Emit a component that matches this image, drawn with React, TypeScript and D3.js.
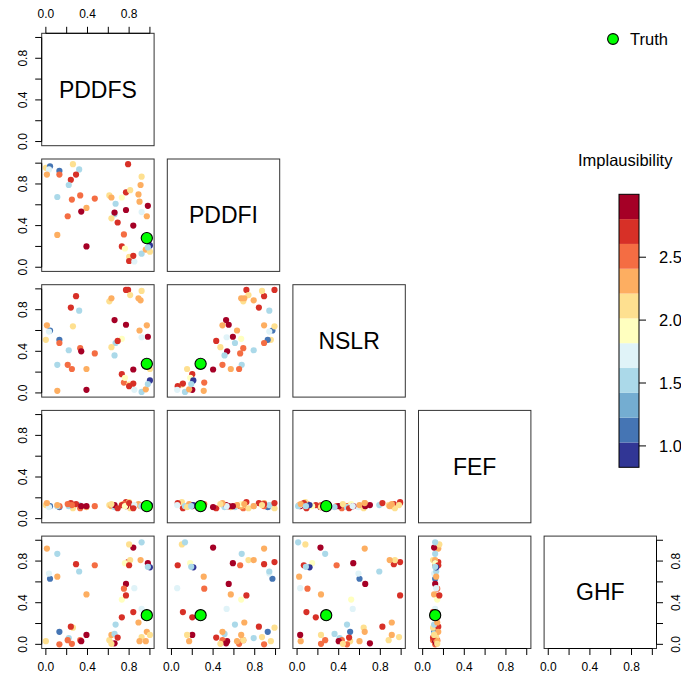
import React from 'react';
import * as d3 from 'd3';

const varNames = ['PDDFS', 'PDDFI', 'NSLR', 'FEF', 'GHF'];

const pddfs = [0.00,0.04,0.03,0.01,0.13,0.13,0.26,0.32,0.29,0.24,0.22,0.11,0.25,0.33,0.47,0.39,0.34,0.21,0.11,0.39,0.79,0.61,0.63,0.73,0.67,0.77,0.81,0.92,0.91,0.89,0.90,0.98,0.66,0.66,0.77,0.69,0.92,0.97,0.84,0.75,0.73,0.76,0.80,0.80,0.85,0.84,0.92,0.96,1.00,1.00,0.98,0.63];
const pddfi = [0.955,0.97,0.94,0.89,0.925,0.89,0.99,0.94,0.89,0.84,0.79,0.675,0.65,0.69,0.66,0.57,0.535,0.49,0.31,0.20,0.99,0.69,0.67,0.67,0.61,0.72,0.74,0.87,0.79,0.70,0.63,0.59,0.51,0.525,0.55,0.43,0.53,0.49,0.40,0.315,0.20,0.18,0.10,0.06,0.055,0.11,0.13,0.17,0.15,0.21,0.19,0.47];
const nslr = [0.51,0.60,0.59,0.65,0.51,0.48,0.64,0.79,0.93,0.82,0.41,0.27,0.23,0.43,0.38,0.23,0.40,0.27,0.02,0.03,0.99,0.88,0.91,0.52,0.48,0.99,0.94,0.98,0.89,0.91,0.60,0.54,0.36,0.70,0.655,0.50,0.535,0.65,0.225,0.10,0.18,0.145,0.08,0.065,0.03,0.09,0.01,0.035,0.23,0.12,0.085,0.44];
const fef = [0.13,0.12,0.11,0.15,0.11,0.12,0.10,0.13,0.14,0.15,0.12,0.12,0.13,0.10,0.12,0.11,0.12,0.14,0.13,0.12,0.15,0.13,0.12,0.14,0.11,0.16,0.10,0.13,0.12,0.14,0.13,0.12,0.11,0.13,0.12,0.10,0.12,0.15,0.11,0.14,0.13,0.12,0.16,0.15,0.13,0.10,0.12,0.14,0.11,0.13,0.12,0.14];
const ghf = [0.03,0.63,0.68,0.92,0.12,0.00,0.16,0.70,0.77,0.17,0.06,0.87,0.005,0.04,0.76,0.48,0.03,0.04,0.65,0.09,0.79,0.04,0.09,0.43,0.19,0.47,0.81,0.07,0.81,0.21,0.03,0.78,0.10,0.01,0.58,0.065,0.34,0.12,0.93,0.535,0.26,0.78,0.96,0.76,0.54,0.31,0.98,0.03,0.09,0.74,0.745,0.005];
const implausibility = [2.10,1.12,1.70,2.30,1.15,2.50,2.12,1.50,2.72,2.70,1.52,1.55,2.48,2.52,2.50,2.30,2.90,2.50,2.32,2.88,2.70,2.10,2.30,1.92,1.52,2.68,2.12,2.08,2.28,2.33,2.31,2.92,1.50,2.86,2.90,2.70,1.72,2.30,2.94,2.50,2.72,1.90,2.10,2.70,1.74,2.69,1.52,2.30,2.10,0.92,1.50,2.11];

const truth = [0.97, 0.28, 0.28, 0.12, 0.28];

const axisTicks = [0, 0.2, 0.4, 0.6, 0.8, 1.0];
const axisLabels = [0, 0.4, 0.8];
const impTicks = [1.0, 1.5, 2.0, 2.5];
const impRange: [number, number] = [0.83, 3.0];

const FONT = '"Liberation Sans", Arial, Helvetica, sans-serif';

export default function App() {
  const W = 681, H = 677;
  const L0 = 41.7, T0 = 33.3, HSTEP = 125.6, VSTEP = 125.7, SIZE = 112.4;
  const TICK = 6.5;
  const vars = [pddfs, pddfi, nslr, fef, ghf];
  const palette = d3.schemeRdYlBu[11].slice().reverse();
  const color = d3.scaleQuantize<string>().domain(impRange).range(palette);
  const fmt = d3.format('.1f');
  const n = varNames.length;

  const panels: React.ReactNode[] = [];
  for (let r = 0; r < n; r++) {
    for (let c = 0; c <= r; c++) {
      const x0 = L0 + c * HSTEP;
      const y0 = T0 + r * VSTEP;
      const xs = d3.scaleLinear().domain([-0.04, 1.04]).range([x0, x0 + SIZE]);
      const ys = d3.scaleLinear().domain([-0.04, 1.04]).range([y0 + SIZE, y0]);
      const key = `${r}-${c}`;
      const items: React.ReactNode[] = [];
      if (r === c) {
        items.push(
          <text key="lab" x={x0 + SIZE / 2} y={y0 + SIZE / 2} fontSize={23} textAnchor="middle"
            dominantBaseline="central" fontFamily={FONT} fill="#000">{varNames[r]}</text>
        );
      } else {
        const xv = vars[c], yv = vars[r];
        xv.forEach((v, i) => {
          items.push(
            <circle key={`p${i}`} cx={xs(v)} cy={ys(yv[i])} r={3.1} fill={color(implausibility[i])} />
          );
        });
        items.push(
          <circle key="truth" cx={xs(truth[c])} cy={ys(truth[r])} r={5.6} fill="#00ff00" stroke="#000" strokeWidth={1.1} />
        );
      }
      items.push(
        <rect key="box" x={x0} y={y0} width={SIZE} height={SIZE} fill="none" stroke="#333" strokeWidth={1} />
      );
      if (c === 0) {
        items.push(
          <g key="laxis">
            <line x1={x0} x2={x0} y1={ys(0)} y2={ys(1)} stroke="#000" />
            {axisTicks.map(t => (
              <line key={t} x1={x0} x2={x0 - TICK} y1={ys(t)} y2={ys(t)} stroke="#000" />
            ))}
            {axisLabels.map(t => (
              <text key={'l' + t} transform={`translate(${x0 - 14.5},${ys(t)}) rotate(-90)`} textAnchor="middle"
                fontSize={12} fontFamily={FONT} fill="#000">{fmt(t)}</text>
            ))}
          </g>
        );
      }
      if (r === 0 && c === 0) {
        items.push(
          <g key="taxis">
            <line x1={xs(0)} x2={xs(1)} y1={y0} y2={y0} stroke="#000" />
            {axisTicks.map(t => (
              <line key={t} x1={xs(t)} x2={xs(t)} y1={y0} y2={y0 - TICK} stroke="#000" />
            ))}
            {axisLabels.map(t => (
              <text key={'l' + t} x={xs(t)} y={y0 - 15} textAnchor="middle"
                fontSize={12} fontFamily={FONT} fill="#000">{fmt(t)}</text>
            ))}
          </g>
        );
      }
      if (r === n - 1) {
        const yb = y0 + SIZE;
        items.push(
          <g key="baxis">
            <line x1={xs(0)} x2={xs(1)} y1={yb} y2={yb} stroke="#000" />
            {axisTicks.map(t => (
              <line key={t} x1={xs(t)} x2={xs(t)} y1={yb} y2={yb + TICK} stroke="#000" />
            ))}
            {axisLabels.map(t => (
              <text key={'l' + t} x={xs(t)} y={yb + 22} textAnchor="middle"
                fontSize={12} fontFamily={FONT} fill="#000">{fmt(t)}</text>
            ))}
          </g>
        );
      }
      if (r === n - 1 && c === n - 1) {
        const xr = x0 + SIZE;
        items.push(
          <g key="raxis">
            <line x1={xr} x2={xr} y1={ys(0)} y2={ys(1)} stroke="#000" />
            {axisTicks.map(t => (
              <line key={t} x1={xr} x2={xr + TICK} y1={ys(t)} y2={ys(t)} stroke="#000" />
            ))}
            {axisLabels.map(t => (
              <text key={'l' + t} transform={`translate(${xr + 23},${ys(t)}) rotate(-90)`} textAnchor="middle"
                fontSize={12} fontFamily={FONT} fill="#000">{fmt(t)}</text>
            ))}
          </g>
        );
      }
      panels.push(<g key={key}>{items}</g>);
    }
  }

  const cbX = 619, cbW = 20, cbTop = 194.3, cbBottom = 467.3;
  const cy = d3.scaleLinear().domain(impRange).range([cbBottom, cbTop]);
  const bins = color.thresholds();
  const edges = [impRange[0], ...bins, impRange[1]];

  return (
    <svg width={W} height={H} style={{ position: 'absolute', left: 0, top: 0, background: '#fff' }}
      fontFamily={FONT}>
      <rect x={0} y={0} width={W} height={H} fill="#fff" />
      {panels}
      <circle cx={613} cy={39} r={5.4} fill="#00ff00" stroke="#000" strokeWidth={1.1} />
      <text x={630} y={39} dominantBaseline="central" fontSize={16.5} fill="#000">Truth</text>
      <text x={578} y={160} dominantBaseline="central" fontSize={16.5} fill="#000">Implausibility</text>
      {palette.map((col, i) => (
        <rect key={col} x={cbX} y={cy(edges[i + 1])} width={cbW} height={cy(edges[i]) - cy(edges[i + 1])}
          fill={col} stroke="none" />
      ))}
      <rect x={cbX} y={cbTop} width={cbW} height={cbBottom - cbTop} fill="none" stroke="#000" strokeWidth={1} />
      {impTicks.map(t => (
        <g key={t}>
          <line x1={cbX + cbW} x2={cbX + cbW + 7} y1={cy(t)} y2={cy(t)} stroke="#000" />
          <text x={cbX + cbW + 20} y={cy(t)} dominantBaseline="central" fontSize={16.5} fill="#000">{fmt(t)}</text>
        </g>
      ))}
    </svg>
  );
}
